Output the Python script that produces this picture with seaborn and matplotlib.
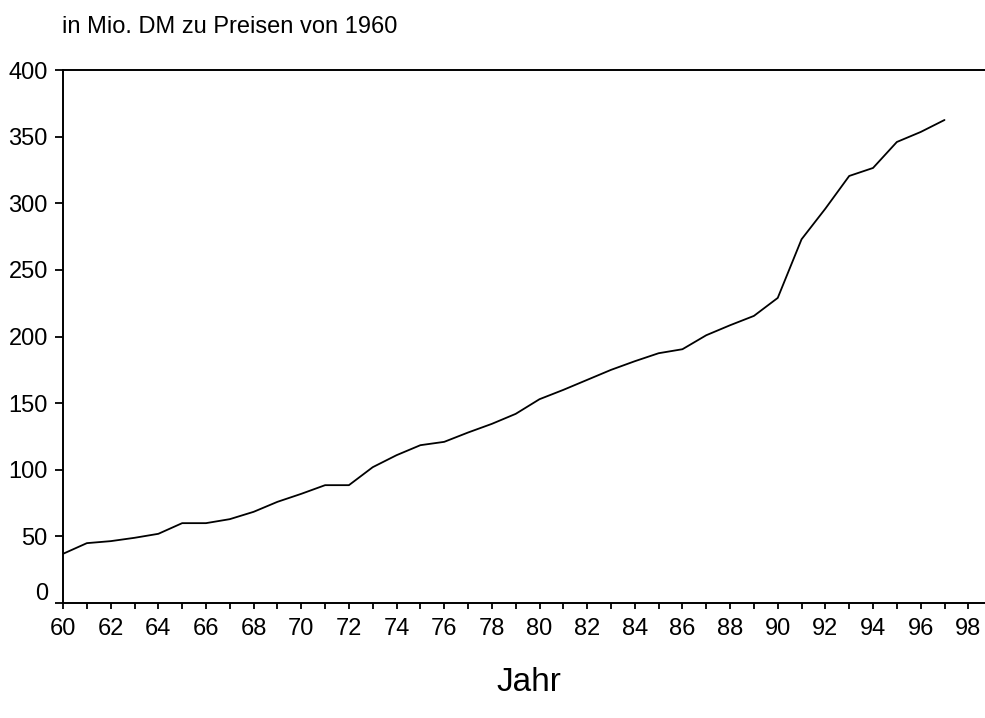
import matplotlib
matplotlib.use("Agg")
import matplotlib.pyplot as plt
import matplotlib.transforms as mtransforms
import seaborn as sns
import pandas as pd
from matplotlib.ticker import MultipleLocator

years = list(range(60, 98))
values = [37, 45, 46.5, 49, 52, 60, 60, 63, 68.5, 76, 82, 88.5, 88.5, 102, 111, 118.5,
          121, 128, 134.5, 142, 153, 160, 167.5, 175, 181.5, 187.5, 190.5, 201, 208.5, 215.5,
          229, 273, 296, 320.5, 326.5, 346, 353.5, 362.5]
xticks = list(range(60, 99, 2))
yticks = list(range(0, 401, 50))

df = pd.DataFrame({"Jahr": years, "Wert": values})

sns.set_style("ticks")
plt.rcParams['font.family'] = ['Liberation Sans', 'DejaVu Sans']

fig = plt.figure(figsize=(9.85, 7.18), dpi=100)
ax = fig.add_axes([0.064, 0.160, 0.936, 0.7425])
sns.lineplot(data=df, x="Jahr", y="Wert", ax=ax, color="black", linewidth=1.3)

ax.set_xlim(60, 98.7)
ax.set_ylim(0, 400)
ax.set_xticks(xticks)
ax.set_xticklabels([str(t) for t in xticks])
ax.xaxis.set_minor_locator(MultipleLocator(1))
ax.set_yticks(yticks)
ax.tick_params(axis='both', which='both', direction='out', width=1.3,
               labelsize=17, color='black', labelcolor='black')
ax.tick_params(axis='x', which='both', length=4.5, pad=6)
ax.tick_params(axis='y', length=6, pad=5)
for s in ['left', 'bottom', 'top']:
    ax.spines[s].set_linewidth(1.4)
    ax.spines[s].set_color('black')
ax.spines['right'].set_visible(False)
ax.set_xlabel("")
ax.set_ylabel("")
ax.grid(False)

# the "0" label sits slightly above its tick in the reference
fig.canvas.draw()
lbl0 = ax.get_yticklabels()[0]
lbl0.set_transform(lbl0.get_transform() + mtransforms.ScaledTranslation(0, 12/100, fig.dpi_scale_trans))

fig.text(0.063, 0.963, "in Mio. DM zu Preisen von 1960", fontsize=17, ha='left', va='center', color='black')
fig.text(0.537, 0.049, "Jahr", fontsize=24, ha='center', va='center', color='black')

fig.savefig("out.png", dpi=100)
